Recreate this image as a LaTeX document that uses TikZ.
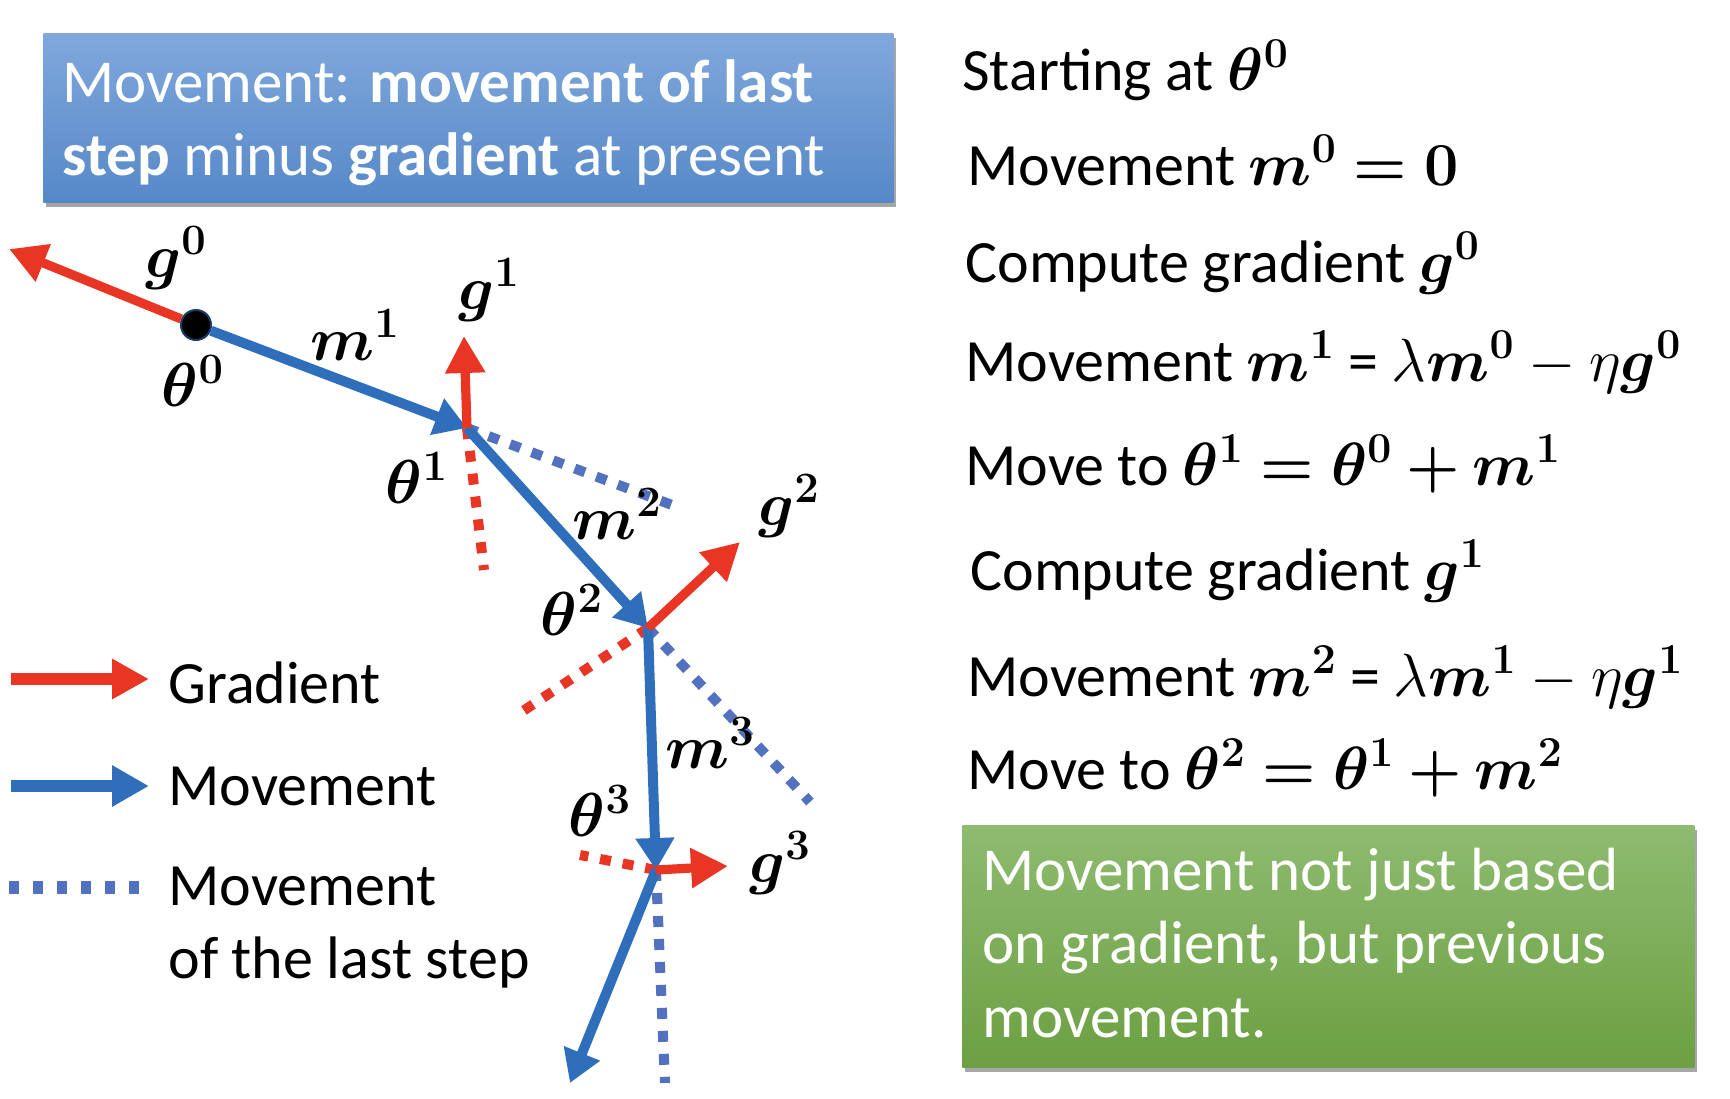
\RequirePackage{fix-cm}
\documentclass[tikz,border=0pt]{standalone}
\usepackage[no-math]{fontspec}
\setmainfont{Carlito}
\usepackage{amsmath}
\usepackage{bm}
\usetikzlibrary{arrows.meta,shadows}

\definecolor{gradred}{RGB}{233,53,36}
\definecolor{moveblue}{RGB}{47,110,186}
\definecolor{lastblue}{RGB}{82,114,192}
\definecolor{titletop}{RGB}{128,168,220}
\definecolor{titlebot}{RGB}{86,136,200}
\definecolor{notetop}{RGB}{142,187,112}
\definecolor{notebot}{RGB}{108,160,66}

% formulas in the step list
\newcommand{\mth}[1]{{\fontsize{30.5}{36}\selectfont$#1$}}

\begin{document}
\begin{tikzpicture}[x=0.5pt,y=-0.5pt,
  txt/.style={font=\fontsize{30}{36}\selectfont, inner sep=0pt, anchor=base west},
  wtxt/.style={txt, text=white, font=\fontsize{30.5}{36}\selectfont},
  lbl/.style={font=\fontsize{31}{36}\selectfont, inner sep=0pt},
  gradarrow/.style={draw=gradred, line width=4.6pt, -{Triangle[length=18.5pt,width=19pt]}},
  movearrow/.style={draw=moveblue, line width=5pt, -{Triangle[length=16pt,width=18.5pt]}},
  lastdots/.style={draw=lastblue, line width=5pt, dash pattern=on 5.5pt off 6pt},
  graddots/.style={draw=gradred, line width=5pt, dash pattern=on 5.5pt off 6pt},
  panel/.style={inner sep=0pt, anchor=north west,
    drop shadow={shadow xshift=1.5pt, shadow yshift=-2.5pt, fill=black, opacity=0.35}},
]
\useasboundingbox (0,0) rectangle (1730,1098);

% ---------- title box ----------
\node[panel, top color=titletop, bottom color=titlebot,
      minimum width=425pt, minimum height=84.5pt] (title) at (43,33) {};
\node[wtxt] (title1) at (62,102) {Movement: \textbf{movement of last}};
\node[wtxt] (title2) at (62,175) {\textbf{step} minus \textbf{gradient} at present};

% ---------- points of the path ----------
\coordinate (T1) at (467,428);
\coordinate (T2) at (648,628);
\coordinate (T3) at (656,870);
\coordinate (G0) at (9,249);
\coordinate (G1) at (464,336);
\coordinate (G2) at (740,542);
\coordinate (G3) at (728,866);
\coordinate (R1) at (484,570);
\coordinate (B1) at (680,508);
\coordinate (R2) at (517,715);
\coordinate (B2) at (810,802);
\coordinate (R3) at (580,855);
\coordinate (B3) at (665,1083);
\coordinate (M4) at (570,1083);

% starting point
\node[circle, fill=black, draw=moveblue!55!black, line width=1pt,
      minimum size=15pt, inner sep=0pt] (T0) at (196,325) {};

% movement of the last step and negative gradient (dotted)
\draw[lastdots] (T1) -- (B1);
\draw[lastdots] (T2) -- (B2);
\draw[lastdots] (T3) -- (B3);
\draw[graddots] (T1) -- (R1);
\draw[graddots] (T2) -- (R2);
\draw[graddots] (T3) -- (R3);

% movements
\draw[movearrow] (T0) -- (T1);
\draw[movearrow] (T1) -- (T2);
\draw[movearrow] (T2) -- (T3);
\draw[movearrow] (T3) -- (M4);

% gradients
\draw[gradarrow] (T0) -- (G0);
\draw[gradarrow] (T1) -- (G1);
\draw[gradarrow] (T2) -- (G2);
\draw[gradarrow] (T3) -- (G3);

% labels on the path
\node[lbl] (lg0) at (176,258) {$\bm{g^0}$};
\node[lbl] (lt0) at (193,381) {$\bm{\theta^0}$};
\node[lbl] (lm1) at (355,335) {$\bm{m^1}$};
\node[lbl] (lg1) at (489,290) {$\bm{g^1}$};
\node[lbl] (lt1) at (417,478) {$\bm{\theta^1}$};
\node[lbl] (lm2) at (617,514) {$\bm{m^2}$};
\node[lbl] (lg2) at (789,506) {$\bm{g^2}$};
\node[lbl] (lt2) at (572,610) {$\bm{\theta^2}$};
\node[lbl] (lm3) at (710,743) {$\bm{m^3}$};
\node[lbl] (lt3) at (600,811) {$\bm{\theta^3}$};
\node[lbl] (lg3) at (780,863) {$\bm{g^3}$};

% ---------- legend ----------
\coordinate (la1) at (11,679);  \coordinate (lb1) at (149,679);
\coordinate (la2) at (11,786);  \coordinate (lb2) at (149,786);
\coordinate (la3) at (9,887);   \coordinate (lb3) at (148,887);
\draw[gradarrow, line width=6pt] (la1) -- (lb1);
\draw[movearrow, line width=6pt, -{Triangle[length=18.5pt,width=19.5pt]}] (la2) -- (lb2);
\draw[lastdots, line width=6.5pt, dash pattern=on 5pt off 7pt] (la3) -- (lb3);
\node[txt] (leg1) at (168,703) {Gradient};
\node[txt] (leg2) at (168,805) {Movement};
\node[txt] (leg3) at (168,905) {Movement};
\node[txt] (leg4) at (168,978) {of the last step};

% ---------- steps ----------
\node[txt] (s1) at (962,90)  {Starting at \mth{\bm{\theta^0}}};
\node[txt] (s2) at (967,185) {Movement \mth{\bm{m^0 = 0}}};
\node[txt] (s3) at (965,282) {Compute gradient \mth{\bm{g^0}}};
\node[txt] (s4) at (965,381) {Movement \mth{\bm{m^1}} = \mth{\lambda\bm{m^0} - \eta\bm{g^0}}};
\node[txt] (s5) at (965,485) {Move to \mth{\bm{\theta^1 = \theta^0 + m^1}}};
\node[txt] (s6) at (970,590) {Compute gradient \mth{\bm{g^1}}};
\node[txt] (s7) at (967,696) {Movement \mth{\bm{m^2}} = \mth{\lambda\bm{m^1} - \eta\bm{g^1}}};
\node[txt] (s8) at (967,789) {Move to \mth{\bm{\theta^2 = \theta^1 + m^2}}};

% ---------- note box ----------
\node[panel, top color=notetop, bottom color=notebot,
      minimum width=366pt, minimum height=121pt] (note) at (962,825) {};
\node[wtxt] (note1) at (982,890)  {Movement not just based};
\node[wtxt] (note2) at (982,963)  {on gradient, but previous};
\node[wtxt] (note3) at (982,1037) {movement.};
\end{tikzpicture}
\end{document}
